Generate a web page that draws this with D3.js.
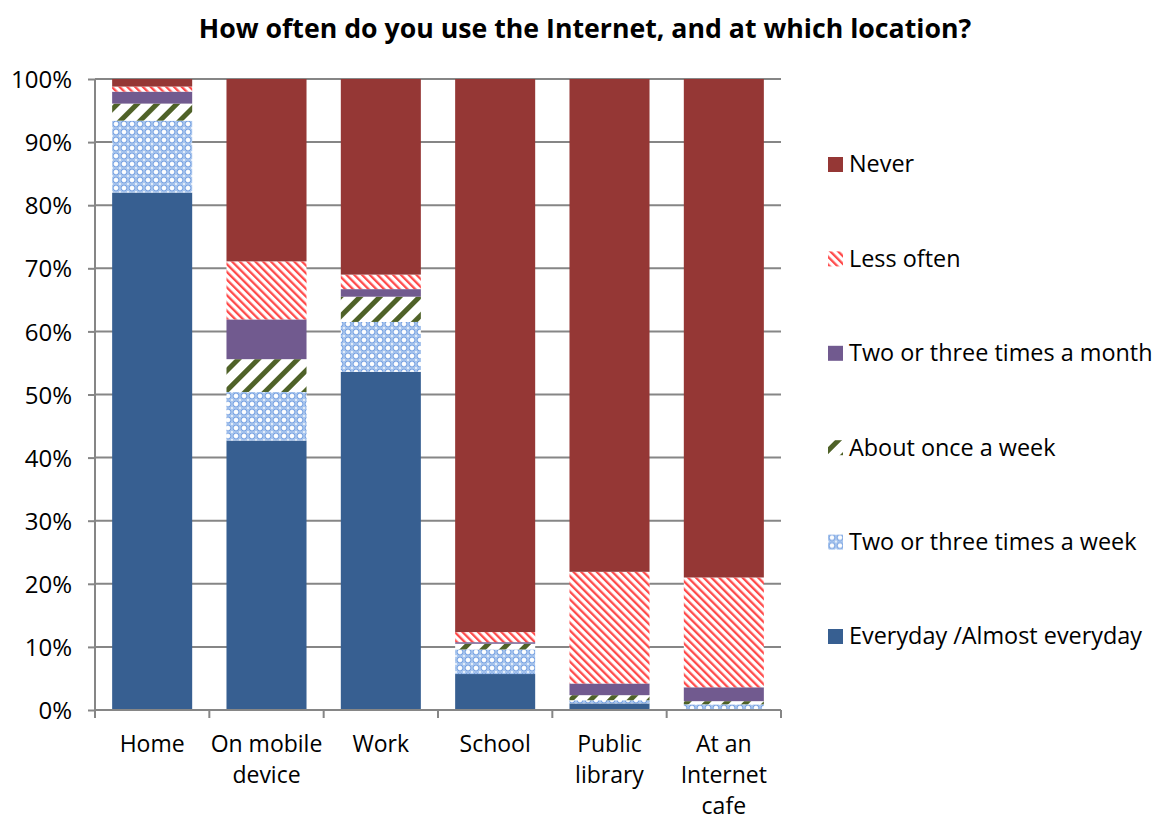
<!DOCTYPE html>
<html>
<head>
<meta charset="utf-8">
<script src="https://cdn.jsdelivr.net/npm/d3@7"></script>
<style>
  html, body { margin: 0; padding: 0; background: #fff; }
  svg { display: block; font-family: "Open Sans", Lato, sans-serif; }
</style>
</head>
<body>
<svg id="chart" width="1154" height="819"></svg>
<script>
// Locations where the Internet is used
const categories = ["Home", "On mobile device", "Work", "School", "Public library", "At an Internet cafe"];
const categoryLines = [["Home"], ["On mobile", "device"], ["Work"], ["School"], ["Public", "library"], ["At an", "Internet", "cafe"]];

// Share of respondents (%) per frequency, stacked bottom to top
const everyday      = [82.0, 42.7, 53.6, 5.7, 1.05, 0.1];
const twoThreeWeek  = [11.4, 7.7, 7.9, 3.9, 0.5, 0.8];
const onceWeek      = [2.7, 5.2, 4.0, 0.9, 0.8, 0.5];
const twoThreeMonth = [1.9, 6.3, 1.2, 0.25, 1.85, 2.2];
const lessOften     = [0.8, 9.2, 2.3, 1.6, 17.7, 17.4];
const never         = [1.2, 28.9, 31.0, 87.65, 78.1, 79.0];

const seriesNames = ["Everyday /Almost everyday", "Two or three times a week", "About once a week",
                     "Two or three times a month", "Less often", "Never"];
const seriesValues = [everyday, twoThreeWeek, onceWeek, twoThreeMonth, lessOften, never];
const yTicks = [0, 10, 20, 30, 40, 50, 60, 70, 80, 90, 100];

const title = "How often do you use the Internet, and at which location?";

const svg = d3.select("#chart");
const defs = svg.append("defs");

// Fill patterns
function stripes(id, color, period, width, angle) {
  const p = defs.append("pattern").attr("id", id)
    .attr("patternUnits", "userSpaceOnUse")
    .attr("width", period).attr("height", period)
    .attr("patternTransform", `rotate(${angle})`);
  p.append("rect").attr("width", period).attr("height", period).attr("fill", "#fff");
  p.append("rect").attr("x", 0).attr("width", width).attr("height", period).attr("fill", color);
}
stripes("pLess", "#ff4a4a", 5.5, 2.3, -45);
stripes("pOnce", "#4f6228", 14, 5, 45);

// Light blue lattice for "two or three times a week"
(function () {
  const s = 8;
  const p = defs.append("pattern").attr("id", "pWeek")
    .attr("patternUnits", "userSpaceOnUse")
    .attr("width", s).attr("height", s);
  p.append("rect").attr("width", s).attr("height", s).attr("fill", "#a9c6ee");
  p.append("circle").attr("cx", s / 2).attr("cy", s / 2).attr("r", 2.9)
    .attr("fill", "#eef4fc").attr("stroke", "#6f9ce0").attr("stroke-width", 1);
  p.append("path").attr("d", `M${s/2},${s/2-2.2}V${s/2+2.2}M${s/2-2.2},${s/2}H${s/2+2.2}`)
    .attr("stroke", "#fff").attr("stroke-width", 1.3);
  [[0, 0], [s, 0], [0, s], [s, s]].forEach(([cx, cy]) =>
    p.append("circle").attr("cx", cx).attr("cy", cy).attr("r", 0.9).attr("fill", "#fff"));
})();

const fills = ["#375f91", "url(#pWeek)", "url(#pOnce)", "#715a8f", "url(#pLess)", "#953735"];

// Layout
const plot = { left: 95, right: 781, top: 79, bottom: 710 };

const x = d3.scaleBand().domain(categories)
  .range([plot.left, plot.right]).paddingInner(0.3).paddingOuter(0.15);
const y = d3.scaleLinear().domain([0, 100]).range([plot.bottom, plot.top]);

const axisColor = "#868686";

// Horizontal gridlines
svg.append("g").selectAll("line").data(yTicks.filter(d => d > 0)).join("line")
  .attr("x1", plot.left).attr("x2", plot.right)
  .attr("y1", d => y(d)).attr("y2", d => y(d))
  .attr("stroke", axisColor).attr("stroke-width", 2);

// Stacked bars
const rows = categories.map((c, i) => {
  const r = { category: c };
  seriesNames.forEach((s, k) => { r[s] = seriesValues[k][i]; });
  return r;
});
const stacked = d3.stack().keys(seriesNames)(rows);

svg.append("g").selectAll("g").data(stacked).join("g")
  .attr("fill", (d, k) => fills[k])
  .selectAll("rect").data(d => d).join("rect")
  .attr("x", d => x(d.data.category))
  .attr("width", x.bandwidth())
  .attr("y", d => y(d[1]))
  .attr("height", d => y(d[0]) - y(d[1]));

// Y axis
const yAxis = svg.append("g").attr("transform", `translate(${plot.left},0)`)
  .call(d3.axisLeft(y).tickValues(yTicks).tickFormat(d => d + "%").tickSize(7).tickPadding(16));
yAxis.select(".domain").attr("stroke", axisColor).attr("stroke-width", 2).attr("d", `M0,${plot.top}V${plot.bottom}`);
yAxis.selectAll(".tick line").attr("stroke", axisColor).attr("stroke-width", 2);
yAxis.selectAll(".tick text").attr("font-size", 24).attr("fill", "#000")
  .attr("font-family", "'Open Sans', sans-serif").attr("dy", "0.36em");

// X axis with boundary ticks
const xg = svg.append("g");
xg.append("line").attr("x1", plot.left).attr("x2", plot.right)
  .attr("y1", plot.bottom).attr("y2", plot.bottom)
  .attr("stroke", axisColor).attr("stroke-width", 2);
const boundaries = d3.range(categories.length + 1).map(i => plot.left + i * x.step());
xg.selectAll("line.b").data(boundaries).join("line").attr("class", "b")
  .attr("x1", d => d).attr("x2", d => d)
  .attr("y1", plot.bottom).attr("y2", plot.bottom + 8)
  .attr("stroke", axisColor).attr("stroke-width", 2);

const xl = svg.append("g").selectAll("text").data(categories).join("text")
  .attr("x", d => x(d) + x.bandwidth() / 2)
  .attr("y", 752)
  .attr("text-anchor", "middle")
  .attr("font-size", 23).attr("fill", "#000");
xl.selectAll("tspan").data((d, i) => categoryLines[i]).join("tspan")
  .attr("x", function () { return this.parentNode.getAttribute("x"); })
  .attr("dy", (d, j) => j === 0 ? 0 : 31)
  .text(d => d);

// Title
svg.append("text").attr("x", 585).attr("y", 38).attr("text-anchor", "middle")
  .attr("font-size", 26.7).attr("font-weight", "bold").attr("fill", "#000")
  .text(title);

// Legend (top to bottom: Never ... Everyday)
const legendOrder = d3.range(seriesNames.length).reverse();
const lg = svg.append("g").selectAll("g").data(legendOrder).join("g")
  .attr("transform", (k, i) => `translate(828,${164 + i * 94.4})`);
lg.append("rect").attr("x", 0).attr("y", -7).attr("width", 15).attr("height", 15)
  .attr("fill", k => fills[k]);
lg.append("text").attr("x", 21).attr("y", 0).attr("dy", "0.36em")
  .attr("font-size", 23.4).attr("fill", "#000")
  .text(k => seriesNames[k]);
</script>
</body>
</html>
